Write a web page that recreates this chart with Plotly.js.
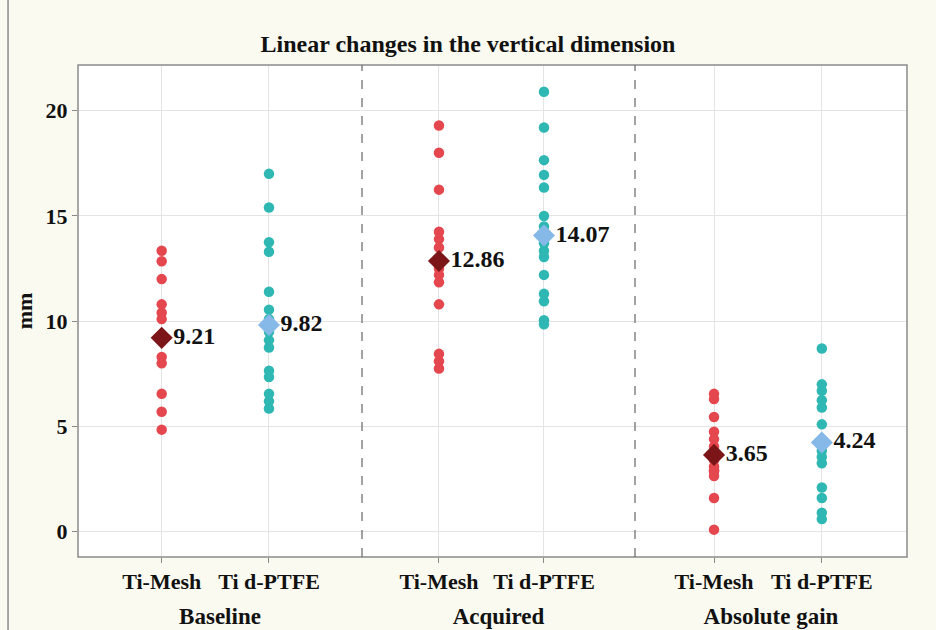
<!DOCTYPE html>
<html>
<head>
<meta charset="utf-8">
<script src="https://cdn.plot.ly/plotly-3.0.1.min.js"></script>
<style>html,body{margin:0;padding:0;background:#fafaf0;}#chart{width:936px;height:630px;}</style>
</head>
<body>
<div id="chart"></div>
<script>
// ---- data (mm) ----
const panels = ['Baseline', 'Acquired', 'Absolute gain'];
const groups = ['Ti-Mesh', 'Ti d-PTFE'];

const baselineMesh = [13.35, 12.85, 12.0, 10.8, 10.4, 10.1, 9.3, 8.3, 8.0, 6.55, 5.7, 4.85];
const baselinePTFE = [17.0, 15.4, 13.75, 13.3, 11.4, 10.55, 10.1, 9.5, 9.1, 8.75, 7.65, 7.35, 6.55, 6.2, 5.85];
const acquiredMesh = [19.3, 18.0, 16.25, 14.25, 13.9, 13.5, 12.9, 12.5, 12.2, 11.85, 10.8, 8.45, 8.1, 7.75];
const acquiredPTFE = [20.9, 19.2, 17.65, 16.95, 16.35, 15.0, 14.5, 13.7, 13.35, 13.05, 12.2, 11.3, 10.95, 10.05, 9.85];
const gainMesh = [6.55, 6.3, 5.45, 4.75, 4.4, 4.05, 3.4, 3.1, 2.9, 2.9, 2.9, 2.65, 1.6, 0.1];
const gainPTFE = [8.7, 7.0, 6.7, 6.25, 5.9, 5.1, 4.3, 3.85, 3.55, 3.25, 2.1, 1.6, 0.9, 0.6];

const meansMesh = [9.21, 12.86, 3.65];
const meansPTFE = [9.82, 14.07, 4.24];

const yTicks = [0, 5, 10, 15, 20];

// ---- styling ----
const FONT = 'Liberation Serif, Times New Roman, serif';
const RED = '#e5474f';
const TEAL = '#2fb8b3';
const DARKRED = '#7c1518';
const LIGHTBLUE = '#86b9e8';

const seriesByPanel = [
  [baselineMesh, baselinePTFE],
  [acquiredMesh, acquiredPTFE],
  [gainMesh, gainPTFE]
];
const axisIds = ['x', 'x2', 'x3'];

const traces = [];
seriesByPanel.forEach((pair, p) => {
  const ax = axisIds[p];
  traces.push({
    type: 'scatter', mode: 'markers', xaxis: ax, yaxis: 'y',
    x: pair[0].map(() => groups[0]), y: pair[0],
    marker: {color: RED, size: 10.5}, hoverinfo: 'y', showlegend: false
  });
  traces.push({
    type: 'scatter', mode: 'markers', xaxis: ax, yaxis: 'y',
    x: pair[1].map(() => groups[1]), y: pair[1],
    marker: {color: TEAL, size: 10.5}, hoverinfo: 'y', showlegend: false
  });
  traces.push({
    type: 'scatter', mode: 'markers+text', xaxis: ax, yaxis: 'y',
    x: [groups[0]], y: [meansMesh[p]],
    text: [meansMesh[p].toFixed(2)], textposition: 'middle right',
    textfont: {family: FONT, size: 24, color: '#111', weight: 'bold'},
    marker: {color: DARKRED, size: 17, symbol: 'diamond'},
    hoverinfo: 'y', showlegend: false, cliponaxis: false
  });
  traces.push({
    type: 'scatter', mode: 'markers+text', xaxis: ax, yaxis: 'y',
    x: [groups[1]], y: [meansPTFE[p]],
    text: [meansPTFE[p].toFixed(2)], textposition: 'middle right',
    textfont: {family: FONT, size: 24, color: '#111', weight: 'bold'},
    marker: {color: LIGHTBLUE, size: 17, symbol: 'diamond'},
    hoverinfo: 'y', showlegend: false, cliponaxis: false
  });
});

const d1 = 0.3426, d2 = 0.6719;
const domains = [[0, d1], [d1, d2], [d2, 1]];
const ranges = [[-0.78, 1.867], [-0.733, 1.867], [-0.733, 1.79]];

function xAxis(i) {
  return {
    domain: domains[i], range: ranges[i], type: 'category',
    categoryorder: 'array', categoryarray: groups,
    anchor: 'y', showgrid: true, gridcolor: '#e4e4e4', gridwidth: 1,
    zeroline: false, showline: false,
    ticks: 'outside', ticklen: 5, tickcolor: '#888', ticklabelstandoff: 0,
    tickfont: {family: FONT, size: 22, color: '#111', weight: 'bold'},
    title: {text: panels[i], font: {family: FONT, size: 23, color: '#111', weight: 'bold'}, standoff: 14},
    fixedrange: true
  };
}

const layout = {
  width: 936, height: 630,
  paper_bgcolor: '#fafaf0', plot_bgcolor: '#ffffff',
  margin: {l: 78, r: 29, t: 65, b: 73},
  title: {
    text: 'Linear changes in the vertical dimension',
    font: {family: FONT, size: 24, color: '#111', weight: 'bold'},
    x: 0.5, xref: 'container', y: 1 - 44 / 630, yref: 'container', yanchor: 'middle'
  },
  xaxis: xAxis(0), xaxis2: xAxis(1), xaxis3: xAxis(2),
  yaxis: {
    range: [-1.2, 22.17], tickvals: yTicks, ticktext: yTicks.map(String),
    showgrid: true, gridcolor: '#e4e4e4', zeroline: false, showline: false,
    ticks: 'outside', ticklen: 5, tickcolor: '#888', ticklabelstandoff: 0,
    tickfont: {family: FONT, size: 22, color: '#111', weight: 'bold'},
    title: {text: 'mm', font: {family: FONT, size: 22, color: '#111', weight: 'bold'}, standoff: 6},
    fixedrange: true
  },
  shapes: [
    {type: 'rect', xref: 'paper', yref: 'paper', x0: 0, x1: 1, y0: 0, y1: 1,
     line: {color: '#8a8a8a', width: 1.5}, layer: 'above'},
    {type: 'line', xref: 'paper', yref: 'paper', x0: d1, x1: d1, y0: 0, y1: 1,
     line: {color: '#666', width: 1.2, dash: 'dash'}, layer: 'above'},
    {type: 'line', xref: 'paper', yref: 'paper', x0: d2, x1: d2, y0: 0, y1: 1,
     line: {color: '#666', width: 1.2, dash: 'dash'}, layer: 'above'},
    {type: 'line', xref: 'paper', yref: 'paper', x0: -0.0844, x1: -0.0844, y0: -0.15, y1: 1.14,
     line: {color: '#8a8a8a', width: 1.5}, layer: 'above'}
  ]
};

Plotly.newPlot('chart', traces, layout, {displayModeBar: false, staticPlot: true});
</script>
</body>
</html>
